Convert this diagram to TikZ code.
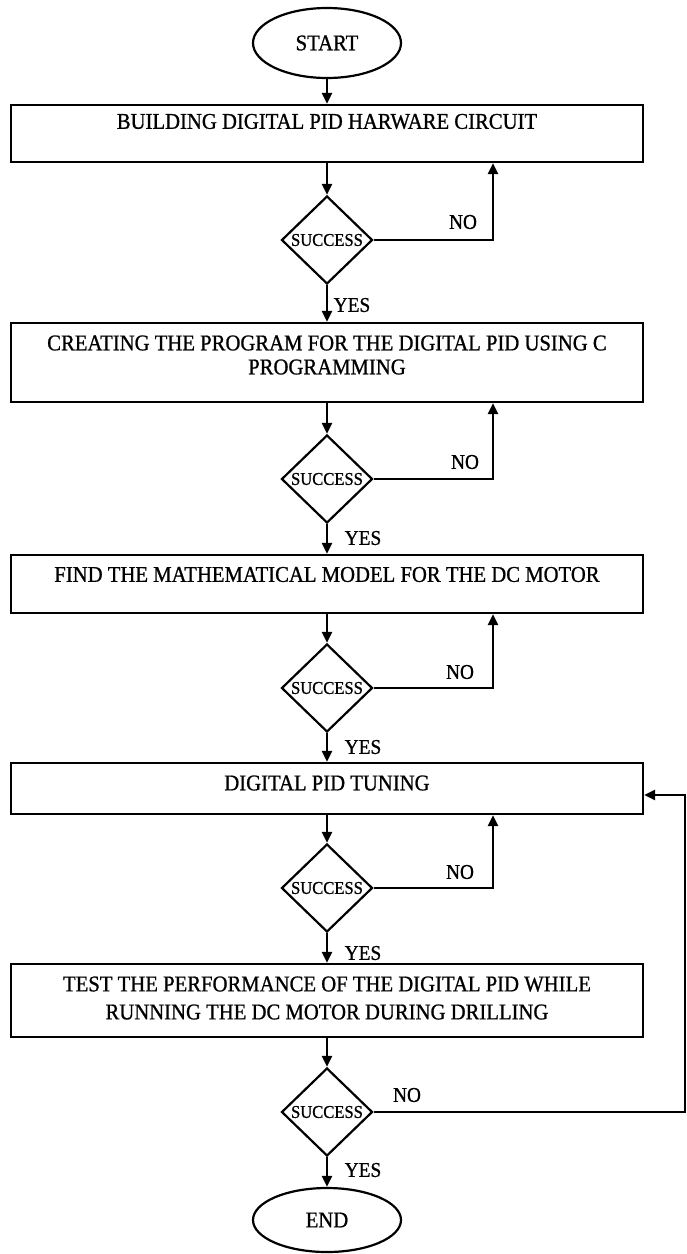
\documentclass[tikz,border=0pt]{standalone}
\usepackage{fontspec}
\setmainfont{Liberation Serif}[FakeBold=0.9, FakeStretch=0.92]
\usetikzlibrary{shapes.geometric,arrows.meta}
\begin{document}
\begin{tikzpicture}[x=1pt,y=-1pt,
  line/.style={line width=2.2pt},
  flow/.style={line, -{Triangle[length=11pt,width=10pt]}},
  procbox/.style={draw, line width=2.2pt, rectangle, minimum width=632pt, inner sep=0pt},
  boxtext/.style={inner sep=0pt, align=center, font=\fontsize{22.5}{24}\selectfont},
  term/.style={draw, line width=2.2pt, ellipse, minimum width=148pt, inner sep=0pt,
               font=\fontsize{22.5}{24}\selectfont},
  decision/.style={draw, line width=2.2pt, diamond, aspect=1, minimum width=91pt,
                   minimum height=88pt, inner sep=0pt, font=\fontsize{18}{18}\selectfont},
  lbl/.style={inner sep=0pt, font=\fontsize{21}{22}\selectfont}]

\useasboundingbox (0,0) rectangle (686,1254);

% terminals
\node[term, minimum height=70pt] (start) at (327,43) {START};
\node[term, minimum height=64pt] (stop) at (327,1220) {END};

% process boxes
\node[procbox, minimum height=57pt] (b1) at (327,133.5) {};
\node[procbox, minimum height=79pt] (b2) at (327,362.5) {};
\node[procbox, minimum height=58pt] (b3) at (327,584) {};
\node[procbox, minimum height=51pt] (b4) at (327,788.5) {};
\node[procbox, minimum height=73pt] (b5) at (327,1000.5) {};

% box texts, set near the top of each box
\node[boxtext] (t1) at (327,121.5) {BUILDING DIGITAL PID HARWARE CIRCUIT};
\node[boxtext] (t2) at (327,355) {CREATING THE PROGRAM FOR THE DIGITAL PID USING C\\PROGRAMMING};
\node[boxtext] (t3) at (327,574.5) {FIND THE MATHEMATICAL MODEL FOR THE DC MOTOR};
\node[boxtext] (t4) at (327,783) {DIGITAL PID TUNING};
\node[boxtext, font=\fontsize{22.5}{28}\selectfont] (t5) at (327,998)
  {TEST THE PERFORMANCE OF THE DIGITAL PID WHILE\\RUNNING THE DC MOTOR DURING DRILLING};

% decisions
\node[decision] (d1) at (327,240) {SUCCESS};
\node[decision] (d2) at (327,479) {SUCCESS};
\node[decision] (d3) at (327,688) {SUCCESS};
\node[decision] (d4) at (327,888) {SUCCESS};
\node[decision] (d5) at (327,1112) {SUCCESS};

% return columns
\coordinate (rc) at (493,0);
\coordinate (ret) at (685,795);

% main flow
\draw[flow] (start.south) -- (b1.north);
\draw[flow] (b1.south) -- (d1.north);
\draw[flow] (d1.south) -- (b2.north);
\draw[flow] (b2.south) -- (d2.north);
\draw[flow] (d2.south) -- (b3.north);
\draw[flow] (b3.south) -- (d3.north);
\draw[flow] (d3.south) -- (b4.north);
\draw[flow] (b4.south) -- (d4.north);
\draw[flow] (d4.south) -- (b5.north);
\draw[flow] (b5.south) -- (d5.north);
\draw[flow] (d5.south) -- (stop.north);

% NO branches
\draw[flow] (d1.east) -| (rc |- b1.south);
\draw[flow] (d2.east) -| (rc |- b2.south);
\draw[flow] (d3.east) -| (rc |- b3.south);
\draw[flow] (d4.east) -| (rc |- b4.south);
\draw[flow] (d5.east) -- (d5.east -| ret) -- (ret) -- (ret -| b4.east);

% branch labels
\node[lbl] (n1) at (463,222) {NO};
\node[lbl] (n2) at (465,462) {NO};
\node[lbl] (n3) at (460,672) {NO};
\node[lbl] (n4) at (460,872) {NO};
\node[lbl] (n5) at (407,1095) {NO};
\node[lbl] (y1) at (352,305) {YES};
\node[lbl] (y2) at (363,538) {YES};
\node[lbl] (y3) at (363,747) {YES};
\node[lbl] (y4) at (363,953) {YES};
\node[lbl] (y5) at (363,1170) {YES};
\end{tikzpicture}
\end{document}
